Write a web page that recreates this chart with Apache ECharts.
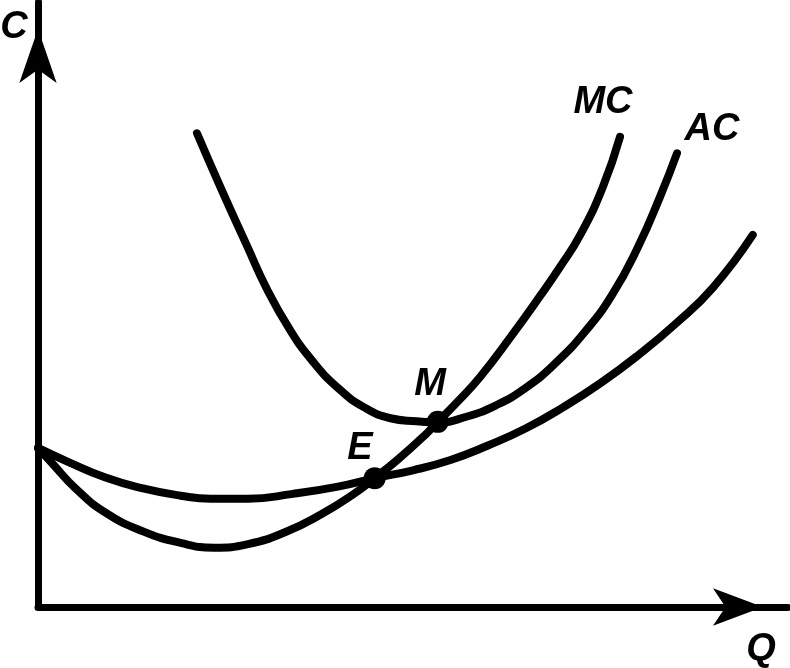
<!DOCTYPE html>
<html>
<head>
<meta charset="utf-8">
<script src="https://cdn.jsdelivr.net/npm/echarts@6/dist/echarts.min.js"></script>
<style>
html,body{margin:0;padding:0;background:#fff;}
#chart{width:790px;height:668px;}
</style>
</head>
<body>
<div id="chart"></div>
<script>
// Quantity Q (0..100) vs Cost C (0..100)
const mcQ = [0, 2, 5, 9, 14, 19, 23.5, 28, 33, 38, 42, 44.9, 48, 51.5, 53.3, 56, 59, 63, 67, 69.6, 72.3, 75.3, 77.6];
const mcC = [26.3, 23.6, 19.6, 15.6, 12.5, 10.6, 9.8, 10.4, 12.4, 15.5, 18.6, 21.3, 24.4, 28.3, 30.6, 34.0, 38.1, 44.6, 51.5, 56.2, 61.5, 69.4, 77.7];

const avcQ = [0, 4, 9, 14, 19, 23, 28, 34, 40, 44.9, 50, 55, 60, 65, 70, 75, 80, 85, 90, 95.3];
const avcC = [26.3, 24.0, 21.4, 19.6, 18.4, 17.9, 17.9, 18.7, 19.9, 21.3, 22.6, 24.3, 26.7, 29.5, 33.0, 37.0, 41.6, 46.8, 52.8, 61.5];

const acQ = [21.2, 24.5, 27.9, 30.5, 33.5, 36.5, 40, 43.5, 47, 50.5, 53.3, 57, 61, 65, 69, 73, 76.5, 80, 83, 85.2];
const acC = [78.3, 68.9, 59.6, 52.6, 46.0, 40.8, 36.2, 33.0, 31.2, 30.7, 30.5, 31.4, 33.3, 36.2, 40.3, 45.6, 51.5, 59.5, 68.0, 75.0];

const pointNames = ['E', 'M'];
const pointQ = [44.9, 53.3];
const pointC = [21.3, 30.6];

const zip = (a, b) => a.map((v, i) => [v, b[i]]);

const chart = echarts.init(document.getElementById('chart'), null, {renderer: 'canvas'});
const font = '"Liberation Sans", Arial, sans-serif';
const txt = (text, x, y, size) => ({
  type: 'text', x: x, y: y,
  style: {text: text, font: 'italic bold ' + size + 'px ' + font, fill: '#000', align: 'center', verticalAlign: 'middle'}
});

const lineStyle = {color: '#000', width: 8, cap: 'round', join: 'round'};

chart.setOption({
  animation: false,
  backgroundColor: '#fff',
  grid: {left: 38, right: 2, top: 2, bottom: 61},
  xAxis: {
    type: 'value', min: 0, max: 100,
    axisLine: {show: true, lineStyle: {color: '#000', width: 7}, symbol: ['none', 'arrow'], symbolSize: [28, 50], symbolOffset: [0, -25]},
    axisTick: {show: false}, axisLabel: {show: false}, splitLine: {show: false}
  },
  yAxis: {
    type: 'value', min: 0, max: 100,
    axisLine: {show: true, lineStyle: {color: '#000', width: 7}, symbol: ['none', 'arrow'], symbolSize: [28, 54], symbolOffset: [0, -27]},
    axisTick: {show: false}, axisLabel: {show: false}, splitLine: {show: false}
  },
  series: [
    {name: 'MC', type: 'line', data: zip(mcQ, mcC), smooth: 0.5, showSymbol: false, lineStyle: lineStyle},
    {name: 'AVC', type: 'line', data: zip(avcQ, avcC), smooth: 0.5, showSymbol: false, lineStyle: lineStyle},
    {name: 'AC', type: 'line', data: zip(acQ, acC), smooth: 0.5, showSymbol: false, lineStyle: lineStyle},
    {name: 'points', type: 'scatter', data: zip(pointQ, pointC), symbol: 'circle', symbolSize: 22, itemStyle: {color: '#000', opacity: 1}, z: 5}
  ],
  graphic: [
    txt('C', 14, 28, 38),
    txt('Q', 761, 650, 38),
    txt('MC', 603, 103, 38),
    txt('AC', 712, 130, 38),
    txt('M', 430, 385, 38),
    txt('E', 360, 449, 38)
  ]
});
</script>
</body>
</html>
